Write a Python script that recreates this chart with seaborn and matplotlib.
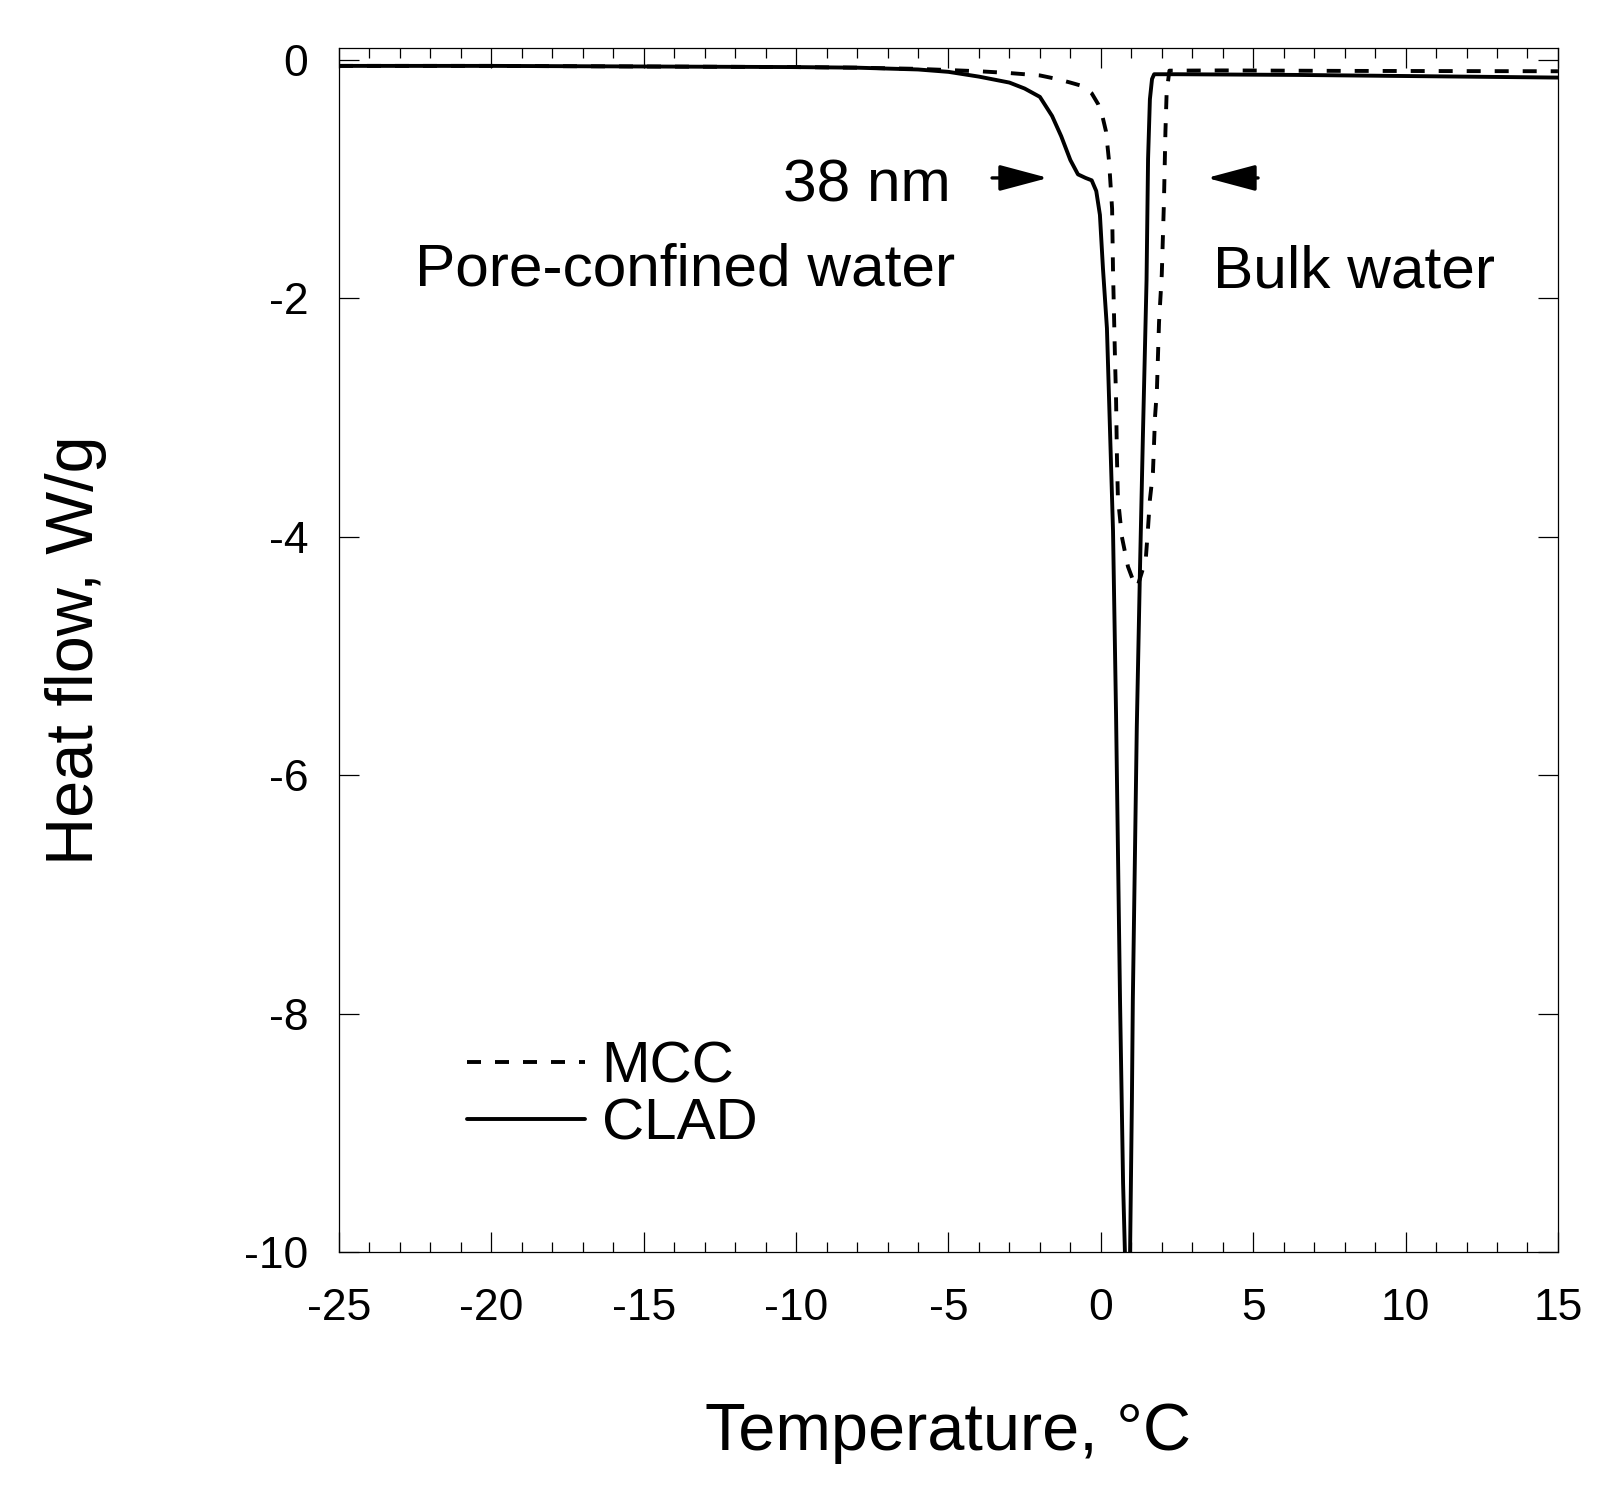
import pandas as pd
import matplotlib
matplotlib.use('Agg')
import matplotlib.pyplot as plt
from matplotlib.ticker import MultipleLocator
import seaborn as sns

# DSC melting traces
mcc_temp = [-25, -20, -15, -10, -8, -6, -5, -4, -3, -2,
            -1.44, -1.0, -0.59, -0.3, -0.09, 0.05, 0.17, 0.27, 0.37, 0.4,
            0.46, 0.5, 0.53, 0.56, 0.69, 0.89, 1.05, 1.2, 1.38, 1.48,
            1.55, 1.61, 1.71, 1.78, 1.84, 1.91, 2.0, 2.07, 2.12, 2.16,
            2.25, 4, 8, 15]
mcc_flow = [-0.05, -0.05, -0.055, -0.06, -0.065, -0.075, -0.085, -0.095, -0.11, -0.13,
            -0.16, -0.19, -0.22, -0.28, -0.37, -0.47, -0.60, -0.85, -1.25, -1.77,
            -2.45, -2.85, -3.35, -3.67, -4.0, -4.25, -4.36, -4.42, -4.27, -4.17,
            -3.92, -3.69, -3.46, -2.99, -2.77, -2.2, -1.8, -1.2, -0.6, -0.27,
            -0.09, -0.088, -0.092, -0.095]

clad_temp = [-25, -20, -15, -10, -8, -6, -5, -4, -3, -2.5,
             -2.0, -1.6, -1.3, -1.0, -0.75, -0.5, -0.3, -0.15, -0.03, 0.07,
             0.2, 0.3, 0.4, 0.5, 0.63, 0.73, 0.79, 0.88, 0.96, 1.02,
             1.05, 1.18, 1.28, 1.38, 1.5, 1.55, 1.61, 1.68, 1.75, 2.5,
             6.5, 10, 15]
clad_flow = [-0.05, -0.05, -0.055, -0.06, -0.065, -0.08, -0.10, -0.14, -0.19, -0.24,
             -0.31, -0.47, -0.64, -0.84, -0.96, -0.99, -1.01, -1.10, -1.30, -1.75,
             -2.25, -3.1, -3.95, -5.5, -7.89, -9.42, -10.0, -10.4, -10.0, -8.72,
             -7.89, -5.6, -4.33, -3.16, -1.85, -0.83, -0.33, -0.16, -0.12, -0.12,
             -0.126, -0.135, -0.148]

x_ticks = [-25, -20, -15, -10, -5, 0, 5, 10, 15]
y_ticks = [0, -2, -4, -6, -8, -10]

df = pd.concat([
    pd.DataFrame({'Temperature': mcc_temp, 'Heat flow': mcc_flow, 'Sample': 'MCC'}),
    pd.DataFrame({'Temperature': clad_temp, 'Heat flow': clad_flow, 'Sample': 'CLAD'}),
], ignore_index=True)

sns.set_style('ticks')
plt.rcParams['font.family'] = ['Liberation Sans', 'DejaVu Sans']
plt.rcParams['axes.unicode_minus'] = False
plt.rcParams['text.color'] = 'black'
plt.rcParams['axes.labelcolor'] = 'black'
plt.rcParams['xtick.color'] = 'black'
plt.rcParams['ytick.color'] = 'black'

fig = plt.figure(figsize=(16.22, 14.91), dpi=100)
ax = fig.add_axes([0.209, 0.1603, 0.7515, 0.8075])

sns.lineplot(data=df, x='Temperature', y='Heat flow', style='Sample',
             dashes={'MCC': (3.6, 3.6), 'CLAD': ''}, color='black', linewidth=2.8,
             estimator=None, sort=False, ax=ax)

ax.set_xlim(-25, 15)
ax.set_ylim(-10, 0.1)
ax.set_xticks(x_ticks)
ax.set_yticks(y_ticks)
ax.xaxis.set_minor_locator(MultipleLocator(1))

for sp in ax.spines.values():
    sp.set_visible(True)
    sp.set_linewidth(0.9)
    sp.set_color('black')

ax.tick_params(axis='both', which='both', direction='in', top=True, right=True,
               width=0.9, color='black', labelcolor='black')
ax.tick_params(axis='both', which='major', length=14.5)
ax.tick_params(axis='both', which='minor', length=7.2)
ax.tick_params(axis='x', which='major', labelsize=32, pad=26)
ax.tick_params(axis='y', which='major', labelsize=32, pad=22)

ax.set_xlabel('Temperature, °C', fontsize=48, color='black')
ax.set_ylabel('Heat flow, W/g', fontsize=48, color='black')
ax.xaxis.set_label_coords(0.5, -0.1246)
ax.yaxis.set_label_coords(-0.19, 0.5)

# Annotations
ax.text(-4.92, -1.19, '38 nm', ha='right', va='baseline', fontsize=43.5)
ax.text(-13.63, -1.89, 'Pore-confined water', ha='center', va='baseline', fontsize=43.5)
ax.text(8.3, -1.91, 'Bulk water', ha='center', va='baseline', fontsize=43.5)

arrow_kw = dict(arrowstyle='-|>,head_length=1.5,head_width=0.4', color='black',
                lw=2.4, shrinkA=0, shrinkB=0, mutation_scale=20)
ax.annotate('', xy=(-1.73, -0.99), xytext=(-3.57, -0.99), arrowprops=arrow_kw)
ax.annotate('', xy=(3.48, -0.99), xytext=(5.16, -0.99), arrowprops=arrow_kw)

# Legend
leg = ax.get_legend()
handles = leg.legend_handles
labels = [t.get_text() for t in leg.get_texts()]
for h in handles:
    h.set_linewidth(2.8)
    h.set_color('black')
ax.legend(handles, labels, loc='upper left', bbox_to_anchor=(0.105, 0.176),
          frameon=False, fontsize=42, handlelength=2.02, handletextpad=0.29,
          labelspacing=0.05, borderpad=0, borderaxespad=0)

fig.savefig('out.png', dpi=100)
